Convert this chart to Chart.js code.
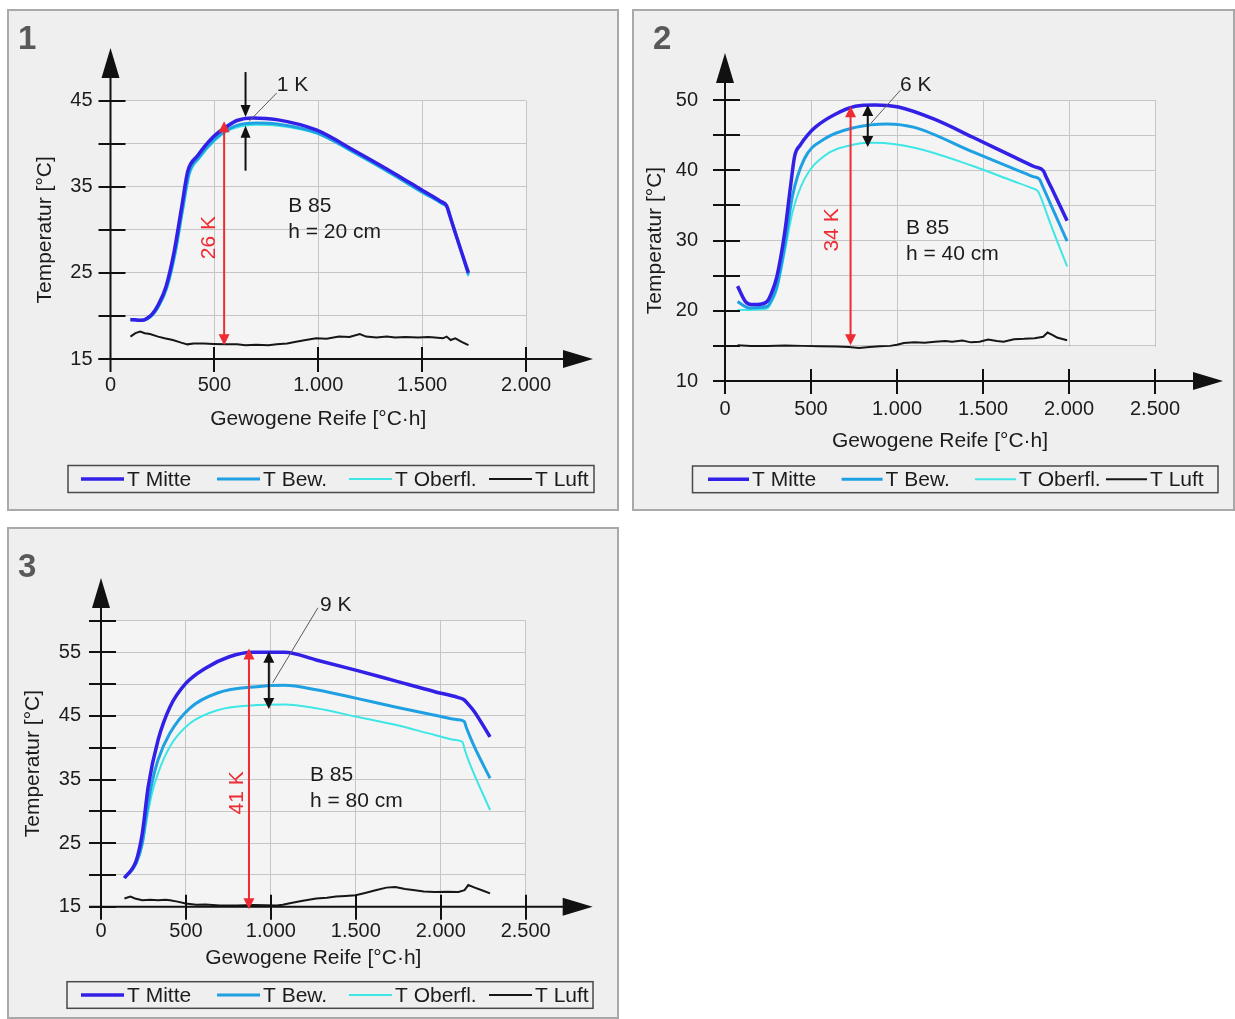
<!DOCTYPE html>
<html lang="de">
<head>
<meta charset="utf-8">
<title>Temperaturverlauf B 85</title>
<script src="https://cdn.jsdelivr.net/npm/chart.js@4.4.1/dist/chart.umd.min.js"></script>
<style>
  body { margin: 0; background: #fff; width: 1235px; height: 1019px; position: relative; overflow: hidden; }
  .panel { position: absolute; box-sizing: border-box; border: 2px solid #a9a9a9; background: #efefef; }
  canvas { position: absolute; }
</style>
</head>
<body>
<div class="panel" style="left:7px;top:9px;width:612px;height:502px"></div>
<div class="panel" style="left:632px;top:9px;width:603px;height:502px"></div>
<div class="panel" style="left:7px;top:527px;width:612px;height:492px"></div>
<canvas id="chart1" width="610" height="500" style="left:8px;top:10px"></canvas>
<canvas id="chart2" width="600" height="500" style="left:633px;top:10px"></canvas>
<canvas id="chart3" width="610" height="490" style="left:8px;top:528px"></canvas>
<script>
// ---------- Messreihen: [Gewogene Reife °C·h, Temperatur °C] ----------
const seriesLabels = ['T Mitte', 'T Bew.', 'T Oberfl.', 'T Luft'];

// Bauteil h = 20 cm
const h20Mitte = [[96,19.6],[150,19.5],[200,20.2],[230,21.3],[267,23.4],[305,27.3],[343,32.7],[372,36.8],[419,38.6],[495,40.8],[560,42.0],[609,42.7],[686,43.0],[800,42.8],[990,41.6],[1181,39.1],[1370,36.5],[1500,34.6],[1590,33.3],[1618,32.8],[1630,31.9],[1660,29.6],[1723,25.0]];
const h20Bew = [[96,19.6],[150,19.5],[200,20.1],[230,21.1],[270,23.3],[310,27.3],[348,32.6],[378,36.6],[425,38.4],[500,40.5],[560,41.6],[620,42.2],[700,42.4],[800,42.3],[990,41.3],[1181,38.9],[1370,36.3],[1500,34.4],[1594,33.1],[1622,32.6],[1634,31.7],[1665,29.3],[1723,24.8]];
const h20Oberfl = [[96,19.6],[150,19.5],[200,20.0],[232,21.0],[273,23.2],[313,27.2],[351,32.5],[381,36.4],[428,38.3],[505,40.4],[565,41.5],[625,42.0],[700,42.2],[800,42.1],[990,41.2],[1181,38.8],[1370,36.2],[1500,34.3],[1596,33.0],[1624,32.5],[1637,31.5],[1668,29.1],[1723,24.6]];
const h20Luft = [[96,17.6],[120,18.0],[143,18.2],[165,18.0],[190,17.9],[229,17.6],[260,17.4],[300,17.2],[340,16.9],[370,16.7],[400,16.8],[450,16.8],[495,16.75],[550,16.7],[609,16.7],[650,16.6],[700,16.65],[760,16.6],[800,16.7],[850,16.8],[893,17.0],[940,17.2],[990,17.4],[1040,17.35],[1100,17.6],[1150,17.55],[1200,17.9],[1230,17.6],[1280,17.5],[1330,17.6],[1370,17.5],[1420,17.55],[1480,17.5],[1530,17.55],[1561,17.5],[1600,17.4],[1618,17.6],[1637,17.2],[1660,17.4],[1690,17.0],[1723,16.6]];

// Bauteil h = 40 cm
const h40Mitte = [[73,23.5],[119,21.3],[150,20.9],[188,20.9],[244,21.3],[270,22.5],[302,24.9],[347,31.1],[380,37.5],[405,42.0],[438,43.6],[480,45.0],[529,46.2],[644,48.0],[758,49.1],[872,49.3],[1008,49.0],[1213,47.3],[1441,44.7],[1670,42.0],[1800,40.5],[1852,39.9],[1866,39.1],[1898,37.5],[1989,32.8]];
const h40Bew = [[73,21.3],[142,20.4],[244,20.6],[270,21.5],[302,23.5],[347,29.2],[392,36.3],[461,41.6],[575,44.4],[758,46.1],[940,46.6],[1101,46.1],[1441,42.6],[1670,40.3],[1790,39.1],[1829,38.7],[1842,38.0],[1898,34.9],[1989,29.9]];
const h40Oberfl = [[73,20.1],[142,20.1],[244,20.3],[270,21.2],[302,23.0],[347,28.3],[392,34.0],[461,38.7],[575,42.0],[758,43.7],[872,43.9],[1101,43.2],[1441,40.6],[1670,38.5],[1780,37.5],[1820,37.0],[1835,36.2],[1898,32.0],[1989,26.3]];
const h40Luft = [[73,15.1],[150,15.0],[250,15.0],[350,15.05],[450,15.0],[550,14.95],[650,14.9],[720,14.85],[780,14.7],[840,14.85],[900,14.95],[960,15.0],[1000,15.15],[1040,15.4],[1100,15.5],[1160,15.45],[1220,15.6],[1280,15.7],[1320,15.6],[1380,15.75],[1430,15.5],[1480,15.6],[1530,15.9],[1580,15.7],[1620,15.6],[1680,15.95],[1740,16.0],[1800,16.1],[1850,16.3],[1875,16.9],[1900,16.6],[1930,16.2],[1989,15.8]];

// Bauteil h = 80 cm
const h80Mitte = [[138,19.5],[208,22.3],[243,26.5],[278,33.9],[336,41.2],[406,46.4],[499,50.1],[615,52.5],[755,54.3],[894,55.0],[1081,55.0],[1267,53.8],[1499,52.2],[1732,50.5],[1965,48.8],[2100,47.9],[2139,47.5],[2160,46.9],[2197,45.7],[2290,41.7]];
const h80Bew = [[138,19.5],[208,21.9],[243,25.0],[270,30.0],[300,34.5],[336,38.1],[406,42.3],[522,46.2],[685,48.6],[918,49.6],[1081,49.8],[1267,49.1],[1499,47.8],[1732,46.4],[1965,45.1],[2100,44.4],[2139,44.1],[2150,43.2],[2197,40.2],[2290,35.2]];
const h80Oberfl = [[138,19.5],[208,21.8],[243,24.6],[275,29.5],[300,32.8],[336,36.0],[406,40.2],[522,43.8],[685,45.9],[918,46.7],[1081,46.8],[1267,46.2],[1499,44.9],[1732,43.6],[1965,42.0],[2090,41.2],[2128,40.9],[2140,39.8],[2162,38.1],[2290,30.2]];
const h80Luft = [[138,16.3],[173,16.6],[200,16.3],[243,16.0],[290,16.1],[336,16.0],[380,16.1],[406,16.0],[450,15.8],[499,15.5],[560,15.3],[615,15.35],[700,15.2],[801,15.2],[900,15.25],[1034,15.2],[1070,15.3],[1104,15.5],[1180,15.9],[1267,16.3],[1330,16.4],[1383,16.6],[1440,16.7],[1499,16.8],[1560,17.2],[1616,17.6],[1680,18.0],[1732,18.1],[1790,17.8],[1848,17.6],[1900,17.4],[1965,17.3],[2040,17.35],[2104,17.3],[2140,17.6],[2162,18.4],[2200,18.0],[2250,17.5],[2290,17.1]];

// Achsbereiche und beschriftete Werte
const xMax = [2000, 2500, 2500];
const yRange = [[15, 45], [10, 50], [15, 60]];
const yLabeled = [[15, 25, 35, 45], [10, 20, 30, 40, 50], [15, 25, 35, 45, 55]];

// ---------- Darstellung ----------
const FONT = "'Liberation Sans', Arial, sans-serif";
const TEXT_FONT = '21px ' + FONT;
const PANEL_BG = '#efefef';
const PLOT_BG = '#f4f4f4';
const GRID = '#c6c6c6';
const INK = '#111111';
const RED = '#ee2b33';
const seriesColors = ['#3220e6', '#1fa0e2', '#3fe6e6', '#161616'];
const seriesWidths = [3.5, 3, 2, 2];

Chart.defaults.font.family = FONT;
Chart.defaults.font.size = 20;
Chart.defaults.color = '#1c1c1c';

function fmtReife(v) {
  return String(v).replace(/\B(?=(\d{3})+(?!\d))/g, '.');
}

function seg(ctx, x1, y1, x2, y2) {
  ctx.beginPath();
  ctx.moveTo(x1, y1);
  ctx.lineTo(x2, y2);
  ctx.stroke();
}

// Pfeilspitze mit Spitze in (x, y), Richtung (dx, dy)
function arrowHead(ctx, x, y, dx, dy, len, half) {
  ctx.beginPath();
  ctx.moveTo(x, y);
  ctx.lineTo(x - dx * len - dy * half, y - dy * len + dx * half);
  ctx.lineTo(x - dx * len + dy * half, y - dy * len - dx * half);
  ctx.closePath();
  ctx.fill();
}

// Achsen mit Pfeilen, Maßpfeile, Beschriftung und Legende
const panelDecor = {
  id: 'panelDecor',
  beforeDraw(chart, args, o) {
    const { ctx, chartArea: a, scales: { y } } = chart;
    const floor = o.gridFloor != null ? y.getPixelForValue(o.gridFloor) : a.bottom;
    ctx.save();
    ctx.fillStyle = PLOT_BG;
    ctx.fillRect(a.left, a.top, a.right - a.left, floor - a.top);
    ctx.restore();
  },
  beforeDatasetsDraw(chart, args, o) {
    if (o.gridFloor == null) return;
    const { ctx, chartArea: a, scales: { y } } = chart;
    const floor = y.getPixelForValue(o.gridFloor);
    ctx.save();
    ctx.fillStyle = PANEL_BG;
    ctx.fillRect(a.left + 1, floor + 1, a.right - a.left + 2, a.bottom - floor + 2);
    ctx.restore();
  },
  afterDraw(chart, args, o) {
    const { ctx, chartArea: a, scales: { x, y } } = chart;
    ctx.save();

    // Achsen
    ctx.strokeStyle = INK;
    ctx.fillStyle = INK;
    ctx.lineWidth = 2;
    const tipX = a.right + o.arrowRight;
    const tipY = a.top - o.arrowTop;
    seg(ctx, a.left - 12, a.bottom, tipX - 20, a.bottom);
    arrowHead(ctx, tipX, a.bottom, 1, 0, 30, 9);
    seg(ctx, a.left, a.bottom + 13, a.left, tipY + 20);
    arrowHead(ctx, a.left, tipY, 0, -1, 30, 9);
    y.ticks.forEach(t => {
      const p = Math.round(y.getPixelForValue(t.value));
      seg(ctx, a.left - 12, p, a.left + 15, p);
    });
    x.ticks.forEach(t => {
      if (t.value === 0) return;
      const p = Math.round(x.getPixelForValue(t.value));
      seg(ctx, p, a.bottom - 12, p, a.bottom + 13);
    });

    ctx.font = TEXT_FONT;

    // roter Maßpfeil Luft -> Maximum
    const s = o.span;
    const sx = x.getPixelForValue(s.x);
    const sb = y.getPixelForValue(s.from);
    const st = y.getPixelForValue(s.from + s.delta);
    ctx.strokeStyle = RED;
    ctx.fillStyle = RED;
    seg(ctx, sx, sb - 8, sx, st + 8);
    arrowHead(ctx, sx, sb, 0, 1, 11, 5.5);
    arrowHead(ctx, sx, st, 0, -1, 11, 5.5);
    ctx.save();
    ctx.translate(sx + s.labelDx, y.getPixelForValue(s.labelY));
    ctx.rotate(-Math.PI / 2);
    ctx.textAlign = 'center';
    ctx.textBaseline = 'middle';
    ctx.fillText(s.delta + ' K', 0, 0);
    ctx.restore();

    // schwarzer Maßpfeil Kern -> Rand
    const g = o.gap;
    const gx = x.getPixelForValue(g.x);
    const gt = y.getPixelForValue(g.top);
    const gb = y.getPixelForValue(g.top - g.delta);
    ctx.strokeStyle = INK;
    ctx.fillStyle = INK;
    if (g.style === 'pinch') {
      seg(ctx, gx, gt - g.shaft, gx, gt - 8);
      arrowHead(ctx, gx, gt, 0, 1, 12, 5);
      seg(ctx, gx, gb + g.shaft, gx, gb + 8);
      arrowHead(ctx, gx, gb, 0, -1, 12, 5);
    } else {
      seg(ctx, gx, gt + 8, gx, gb - 8);
      arrowHead(ctx, gx, gt, 0, -1, 11, 5.5);
      arrowHead(ctx, gx, gb, 0, 1, 11, 5.5);
    }
    ctx.strokeStyle = '#5a5a5a';
    ctx.lineWidth = 1;
    seg(ctx, x.getPixelForValue(g.leaderFrom[0]), y.getPixelForValue(g.leaderFrom[1]),
             x.getPixelForValue(g.leaderTo[0]), y.getPixelForValue(g.leaderTo[1]));
    ctx.fillStyle = '#1c1c1c';
    ctx.textAlign = 'left';
    ctx.textBaseline = 'middle';
    ctx.fillText(g.delta + ' K', x.getPixelForValue(g.tx), y.getPixelForValue(g.ty));

    // Betonsorte / Bauteilhöhe
    const n = o.note;
    n.lines.forEach((line, i) => {
      ctx.fillText(line, x.getPixelForValue(n.x), y.getPixelForValue(n.y) + i * 26);
    });

    // Legende
    const L = o.legend;
    ctx.strokeStyle = '#4a4a4a';
    ctx.lineWidth = 1.5;
    ctx.strokeRect(L.left, L.top, L.width, L.height);
    const cy = L.top + L.height / 2;
    chart.data.datasets.forEach((ds, i) => {
      const lx = L.items[i];
      ctx.strokeStyle = ds.borderColor;
      ctx.lineWidth = ds.borderWidth;
      seg(ctx, lx, cy, lx + L.sample, cy);
      ctx.fillStyle = '#1c1c1c';
      ctx.fillText(ds.label, lx + L.sample + 3, cy + 1);
    });

    // Bildnummer
    ctx.font = 'bold 33px ' + FONT;
    ctx.fillStyle = '#595959';
    ctx.textBaseline = 'alphabetic';
    ctx.fillText(o.tag.text, o.tag.x, o.tag.y);
    ctx.restore();
  }
};

function makeChart(id, idx, series, lay, decor) {
  return new Chart(document.getElementById(id), {
    type: 'line',
    data: {
      datasets: series.map((s, i) => ({
        label: seriesLabels[i],
        data: s.map(([x, y]) => ({ x, y })),
        borderColor: seriesColors[i],
        borderWidth: seriesWidths[i],
        pointRadius: 0,
        fill: false,
        tension: i < 3 ? 0.4 : 0,
        cubicInterpolationMode: i < 3 ? 'monotone' : 'default'
      }))
    },
    options: {
      responsive: false,
      animation: false,
      events: [],
      layout: { padding: lay.pad },
      scales: {
        x: {
          type: 'linear',
          min: 0,
          max: xMax[idx],
          ticks: { stepSize: 500, autoSkip: false, maxRotation: 0, padding: lay.xTickPad, callback: v => fmtReife(v) },
          grid: { color: GRID, lineWidth: 1, drawTicks: false },
          border: { display: false },
          title: { display: true, text: 'Gewogene Reife [°C·h]', font: { size: 21 }, padding: { top: 0, bottom: lay.xTitlePad } },
          afterFit: sc => { sc.height = lay.xHeight; }
        },
        y: {
          min: yRange[idx][0],
          max: yRange[idx][1],
          ticks: { stepSize: 5, autoSkip: false, padding: lay.yTickPad, callback: v => (yLabeled[idx].includes(v) ? String(v) : '') },
          grid: { color: GRID, lineWidth: 1, drawTicks: false },
          border: { display: false },
          title: { display: true, text: 'Temperatur [°C]', font: { size: 21 }, padding: { top: lay.yTitlePad, bottom: 0 } },
          afterFit: sc => { sc.width = lay.yWidth; }
        }
      },
      plugins: {
        legend: { display: false },
        tooltip: { enabled: false },
        panelDecor: decor
      }
    },
    plugins: [panelDecor]
  });
}

makeChart('chart1', 0, [h20Mitte, h20Bew, h20Oberfl, h20Luft],
  { pad: { left: 0, top: 90.7, right: 92, bottom: 71 }, yWidth: 102.5, xHeight: 80, yTickPad: 18, xTickPad: 14, yTitlePad: 25, xTitlePad: 7.5 },
  {
    arrowTop: 52.7, arrowRight: 67,
    span: { x: 547, from: 16.6, delta: 26, labelDx: -15, labelY: 29.1 },
    gap: { x: 650, top: 43.1, delta: 1, style: 'pinch', shaft: 45, tx: 800, ty: 46.8, leaderFrom: [800, 45.9], leaderTo: [667, 42.6] },
    note: { x: 855, y: 32.7, lines: ['B 85', 'h = 20 cm'] },
    legend: { left: 60, top: 455.5, width: 526, height: 27, items: [73, 209, 341, 481], sample: 43 },
    tag: { text: '1', x: 10, y: 39 }
  });

makeChart('chart2', 1, [h40Mitte, h40Bew, h40Oberfl, h40Luft],
  { pad: { left: 0, top: 90, right: 78, bottom: 49 }, yWidth: 92, xHeight: 80, yTickPad: 27, xTickPad: 16, yTitlePad: 10, xTitlePad: 7 },
  {
    gridFloor: 15,
    arrowTop: 47, arrowRight: 68,
    span: { x: 730, from: 15.1, delta: 34, labelDx: -18, labelY: 31.5 },
    gap: { x: 830, top: 49.3, delta: 6, style: 'double', tx: 1017, ty: 52.1, leaderFrom: [1020, 51.4], leaderTo: [849, 46.7] },
    note: { x: 1052, y: 31.8, lines: ['B 85', 'h = 40 cm'] },
    legend: { left: 59.5, top: 456, width: 525.5, height: 26.7, items: [75, 208.6, 342, 473], sample: 41 },
    tag: { text: '2', x: 20, y: 39 }
  });

makeChart('chart3', 2, [h80Mitte, h80Bew, h80Oberfl, h80Luft],
  { pad: { left: 0, top: 92.5, right: 92.3, bottom: 41.3 }, yWidth: 93, xHeight: 70, yTickPad: 20, xTickPad: 13, yTitlePad: 13, xTitlePad: 6 },
  {
    arrowTop: 42.5, arrowRight: 67,
    span: { x: 871, from: 14.6, delta: 41, labelDx: -12, labelY: 32.9 },
    gap: { x: 988, top: 55.1, delta: 9, style: 'double', tx: 1289, ty: 62.4, leaderFrom: [1277, 62.0], leaderTo: [1011, 50.2] },
    note: { x: 1230, y: 35.7, lines: ['B 85', 'h = 80 cm'] },
    legend: { left: 59, top: 453.7, width: 526, height: 26.6, items: [73, 209, 341, 481], sample: 43 },
    tag: { text: '3', x: 10, y: 49 }
  });
</script>
</body>
</html>
